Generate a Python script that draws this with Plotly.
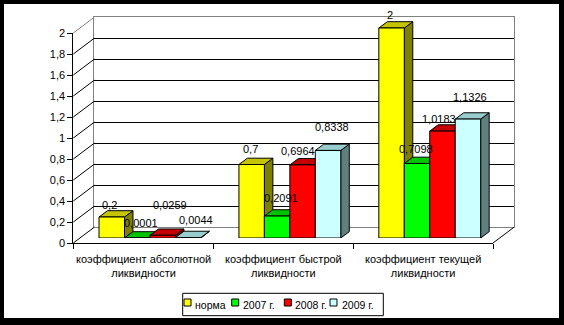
import plotly.graph_objects as go

# ---- data -------------------------------------------------------------
categories = [
    "коэффициент абсолютной<br>ликвидности",
    "коэффициент быстрой<br>ликвидности",
    "коэффициент текущей<br>ликвидности",
]
series_names = ["норма", "2007 г.", "2008 г.", "2009 г."]
norma = [0.2, 0.7, 2]
y2007 = [0.0001, 0.2091, 0.7098]
y2008 = [0.0259, 0.6964, 1.0183]
y2009 = [0.0044, 0.8338, 1.1326]
y_tick_values = [0, 0.2, 0.4, 0.6, 0.8, 1, 1.2, 1.4, 1.6, 1.8, 2]
y_tick_labels = ["0", "0,2", "0,4", "0,6", "0,8", "1", "1,2", "1,4", "1,6", "1,8", "2"]

series_values = [norma, y2007, y2008, y2009]

# ---- styles -----------------------------------------------------------
front_colors = ["#FFFF00", "#00FF00", "#FF0000", "#CCFFFF"]
top_colors = ["#C4C400", "#00C400", "#C40000", "#99CCCC"]
side_colors = ["#808000", "#008000", "#800000", "#608080"]
# pixel nudges (dx, dy) of each value label, per series and category
label_shifts = [
    [(-2, -12), (-1, -16), (-2, -13)],
    [(4, -15), (4, -18), (-1, -14)],
    [(7, -30), (-5, -14), (-3, -12)],
    [(8, -18), (3.5, -23.5), (2.5, -22)],
]
FONT = dict(family="Liberation Sans, Arial, sans-serif", size=11, color="black")
LEGEND_FONT = dict(family="Liberation Sans, Arial, sans-serif", size=10.5, color="black")

# ---- page geometry (pixels) --------------------------------------------
W, H = 564, 325
UNIT = 105.0                     # pixels per value unit
FRONT_L, FRONT_R, FRONT_Z = 73.3, 493.0, 243.0
WALL_DX, WALL_DY = 21.0, 15.8    # depth of the chart box
BAR_DX, BAR_DY = 6.7, 5.0        # front plane of the bars inside the box
CAT_PX = (FRONT_R - FRONT_L) / 3

def fx(px):
    return px / W

def fy(py):
    return 1 - py / H

# bar geometry in axis units
bar_w = 0.182
depth_x = 8.5 / CAT_PX
depth_y = 6.3 / UNIT
bar_top = 2.2

fig = go.Figure()

# empty traces so the wall and front-axis subplots are created
fig.add_trace(go.Scatter(x=[], y=[], xaxis="x", yaxis="y", showlegend=False, hoverinfo="skip"))
fig.add_trace(go.Scatter(x=[], y=[], xaxis="x3", yaxis="y3", showlegend=False, hoverinfo="skip"))

# 3D-looking bars: side, top and front faces per series
for k, vals in enumerate(series_values):
    sx, sy, tx, ty, fxs, fys = [], [], [], [], [], []
    for c, v in enumerate(vals):
        x0 = c + (k - 1.5) * bar_w - bar_w / 2
        x1 = x0 + bar_w
        sx += [x1, x1 + depth_x, x1 + depth_x, x1, x1, None]
        sy += [0, depth_y, v + depth_y, v, 0, None]
        tx += [x0, x1, x1 + depth_x, x0 + depth_x, x0, None]
        ty += [v, v, v + depth_y, v + depth_y, v, None]
        fxs += [x0, x1, x1, x0, x0, None]
        fys += [0, 0, v, v, 0, None]
    for xs, ys, col in ((sx, sy, side_colors[k]), (tx, ty, top_colors[k]), (fxs, fys, front_colors[k])):
        fig.add_trace(go.Scatter(
            x=xs, y=ys, xaxis="x2", yaxis="y2", mode="lines", fill="toself",
            fillcolor=col, line=dict(color="black", width=1),
            name=series_names[k], showlegend=False, hoverinfo="skip",
        ))
    for c, v in enumerate(vals):
        dx, dy = label_shifts[k][c]
        fig.add_annotation(
            x=c + (k - 1.5) * bar_w, y=v, xref="x2", yref="y2",
            text=f"{v:g}".replace(".", ","), showarrow=False,
            xanchor="center", yanchor="middle",
            xshift=dx, yshift=-dy, font=FONT,
        )

# category labels under the floor
for c, name in enumerate(categories):
    fig.add_annotation(
        x=c, y=fy(265.5), xref="x3", yref="paper", text=name, showarrow=False,
        xanchor="center", yanchor="middle", font=FONT, align="center",
    )

shapes = []
# white chart area inside the black frame
shapes.append(dict(type="rect", xref="paper", yref="paper", x0=fx(4), x1=fx(559),
                   y0=fy(318), y1=fy(4), fillcolor="white", line=dict(width=0), layer="below"))
# left side wall and floor edges
for v in y_tick_values:
    pf = FRONT_Z - v * UNIT
    shapes.append(dict(type="line", xref="paper", yref="paper",
                       x0=fx(FRONT_L), y0=fy(pf), x1=fx(FRONT_L + WALL_DX), y1=fy(pf - WALL_DY),
                       line=dict(color="#808080" if v == y_tick_values[-1] else "black", width=1)))
shapes.append(dict(type="line", xref="paper", yref="paper",
                   x0=fx(FRONT_R), y0=fy(FRONT_Z), x1=fx(FRONT_R + WALL_DX), y1=fy(FRONT_Z - WALL_DY),
                   line=dict(color="black", width=1)))

# legend
shapes.append(dict(type="rect", xref="paper", yref="paper", x0=fx(182.7), x1=fx(383.3),
                   y0=fy(315.7), y1=fy(293.3), fillcolor="white", line=dict(color="black", width=1)))
legend_sq = [184, 231.7, 284.3, 330]
legend_tx = [193.3, 240.7, 293, 339.7]
for k, name in enumerate(series_names):
    shapes.append(dict(type="rect", xref="paper", yref="paper", x0=fx(legend_sq[k]), x1=fx(legend_sq[k] + 7),
                       y0=fy(306), y1=fy(299), fillcolor=front_colors[k], line=dict(color="black", width=1)))
    fig.add_annotation(x=fx(legend_tx[k]), y=fy(304.5), xref="paper", yref="paper", text=name,
                       showarrow=False, xanchor="left", yanchor="middle", font=LEGEND_FONT)

fig.update_layout(
    template="none",
    width=W, height=H,
    margin=dict(l=0, r=0, t=0, b=0, pad=0),
    paper_bgcolor="black",
    plot_bgcolor="rgba(0,0,0,0)",
    showlegend=False,
    hovermode=False,
    separators=", ",
    shapes=shapes,
    # back wall with horizontal gridlines
    xaxis=dict(domain=[fx(FRONT_L + WALL_DX), fx(FRONT_R + WALL_DX)], range=[0, 1], anchor="y",
               showgrid=False, zeroline=False, showticklabels=False, ticks="",
               showline=True, mirror=True, linecolor="#808080", linewidth=1),
    yaxis=dict(domain=[fy(FRONT_Z - WALL_DY), fy(FRONT_Z - WALL_DY - 2 * UNIT)], range=[0, 2], anchor="x",
               tickvals=y_tick_values, showticklabels=False, ticks="",
               showgrid=True, gridcolor="black", gridwidth=1, zeroline=False,
               showline=True, mirror=True, linecolor="#808080", linewidth=1),
    # plane of the bars
    xaxis2=dict(domain=[fx(FRONT_L + BAR_DX), fx(FRONT_R + BAR_DX)], range=[-0.5, 2.5], anchor="y2",
                visible=False),
    yaxis2=dict(domain=[fy(FRONT_Z - BAR_DY), fy(FRONT_Z - BAR_DY - bar_top * UNIT)], range=[0, bar_top],
                anchor="x2", visible=False),
    # front value axis and floor
    xaxis3=dict(domain=[fx(FRONT_L), fx(FRONT_R)], range=[-0.5, 2.5], anchor="y3",
                tickvals=[-0.5, 0.5, 1.5, 2.5], ticktext=["", "", "", ""], ticks="outside", ticklen=5,
                tickcolor="black", showgrid=False, zeroline=False,
                showline=True, linecolor="black", linewidth=1),
    yaxis3=dict(domain=[fy(FRONT_Z), fy(FRONT_Z - 2 * UNIT)], range=[0, 2], anchor="x3",
                tickvals=y_tick_values, ticktext=y_tick_labels, ticks="outside", ticklen=5,
                tickcolor="black", tickfont=FONT, showgrid=False, zeroline=False,
                showline=True, linecolor="black", linewidth=1),
)

fig.write_html("out.html")
